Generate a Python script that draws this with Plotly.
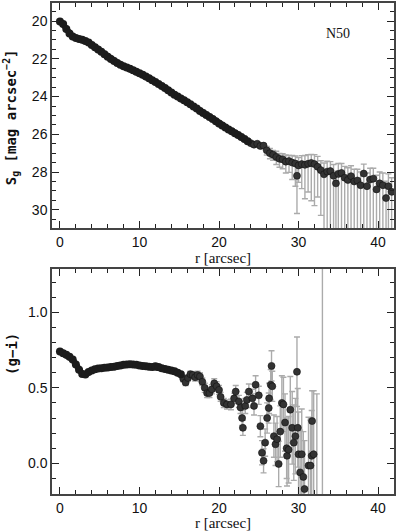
import plotly.graph_objects as go
from plotly.subplots import make_subplots

# surface brightness profile, inner part (errors smaller than the markers)
r_sb_in = [0.0, 0.4, 0.8, 1.2, 1.6, 2.0, 2.4, 2.8, 3.2, 3.6, 4.0, 4.4, 4.8, 5.2, 5.6,
           6.0, 6.4, 6.8, 7.2, 7.6, 8.0, 8.4, 8.8, 9.2, 9.6, 10.0, 10.4, 10.8, 11.2, 11.6,
           12.0, 12.4, 12.8, 13.2, 13.6, 14.0, 14.4, 14.8, 15.2, 15.6, 16.0, 16.4, 16.8,
           17.2, 17.6, 18.0, 18.4, 18.8, 19.2, 19.6, 20.0, 20.4, 20.8, 21.2, 21.6, 22.0,
           22.4, 22.8, 23.2, 23.6]
sb_in = [20.02, 20.15, 20.42, 20.66, 20.82, 20.9, 20.95, 20.99, 21.05, 21.14, 21.26, 21.38,
         21.5, 21.63, 21.76, 21.89, 22.01, 22.12, 22.22, 22.31, 22.39, 22.46, 22.53, 22.6,
         22.68, 22.76, 22.84, 22.93, 23.03, 23.13, 23.23, 23.33, 23.44, 23.55, 23.67, 23.79,
         23.9, 24.0, 24.1, 24.2, 24.3, 24.41, 24.52, 24.63, 24.76, 24.87, 24.98, 25.08,
         25.19, 25.31, 25.43, 25.53, 25.64, 25.74, 25.84, 25.94, 26.04, 26.14, 26.25, 26.37]

# outer part, asymmetric errors (up = brighter, down = fainter)
r_sb_out = [24.0, 24.4, 24.8, 25.2, 25.6, 26.0, 26.4, 26.8, 27.2, 27.6, 28.0, 28.4, 28.8,
            29.2, 29.6, 29.8, 30.0, 30.4, 30.8, 31.2, 31.6, 32.0, 32.4, 32.8, 33.2, 33.6,
            34.0, 34.4, 34.7, 35.0, 35.4, 35.8, 36.2, 36.6, 37.0, 37.4, 37.8, 38.2, 38.6,
            39.0, 39.4, 39.8, 40.2, 40.6, 41.0, 41.3, 41.7]
sb_out = [26.47, 26.55, 26.5, 26.62, 26.6, 26.85, 27.0, 27.08, 27.2, 27.3, 27.33, 27.45,
          27.42, 27.5, 27.55, 28.2, 27.65, 27.58, 27.62, 27.56, 27.52, 27.58, 27.72, 27.9,
          28.12, 27.98, 27.95, 28.2, 28.6, 28.1, 28.05, 28.3, 28.42, 28.22, 28.5, 28.45,
          28.7, 28.08, 28.75, 28.4, 28.35, 28.92, 28.6, 28.7, 29.38, 28.75, 29.05]
sb_err_bright = [0.06, 0.07, 0.08, 0.1, 0.12, 0.2, 0.25, 0.22, 0.3, 0.28, 0.3, 0.35, 0.3,
                 0.38, 0.4, 0.5, 0.42, 0.45, 0.5, 0.48, 0.45, 0.5, 0.55, 0.5, 0.6, 0.55,
                 0.5, 0.6, 0.65, 0.55, 0.5, 0.6, 0.65, 0.55, 0.65, 0.6, 0.7, 0.5, 0.7,
                 0.6, 0.55, 0.75, 0.6, 0.65, 0.9, 0.65, 0.75]
sb_err_faint = [0.07, 0.08, 0.1, 0.12, 0.15, 0.25, 0.3, 0.3, 0.4, 0.45, 0.5, 0.6, 0.6,
                0.9, 1.2, 2.0, 0.9, 1.3, 1.8, 1.5, 2.0, 2.2, 1.6, 2.4, 3.5, 4.0, 4.0,
                4.2, 3.8, 4.5, 4.0, 4.3, 4.5, 4.2, 4.6, 4.4, 4.5, 4.3, 4.6, 4.4, 4.5,
                4.7, 4.5, 4.6, 4.8, 4.5, 4.6]

# g-i colour profile, inner part
r_gi_in = [0.0, 0.4, 0.8, 1.2, 1.6, 2.0, 2.4, 2.8, 3.2, 3.6, 4.0, 4.4, 4.8, 5.2, 5.6,
           6.0, 6.4, 6.8, 7.2, 7.6, 8.0, 8.4, 8.8, 9.2, 9.6, 10.0, 10.4, 10.8, 11.2, 11.6,
           12.0, 12.4, 12.8, 13.2, 13.6, 14.0, 14.4, 14.8, 15.2]
gi_in = [0.74, 0.728, 0.718, 0.705, 0.688, 0.655, 0.62, 0.592, 0.588, 0.605, 0.615, 0.622,
         0.627, 0.63, 0.632, 0.634, 0.637, 0.64, 0.645, 0.648, 0.652, 0.655, 0.656, 0.655,
         0.652, 0.648, 0.645, 0.642, 0.64, 0.638, 0.642, 0.638, 0.63, 0.625, 0.62, 0.615,
         0.61, 0.6, 0.59]

# outer part with errors
r_gi_out = [15.5, 15.8, 16.1, 16.4, 16.7, 17.0, 17.3, 17.6, 17.9, 18.2, 18.5, 18.8, 19.1,
            19.4, 19.7, 20.0, 20.2, 20.6, 21.0, 21.5, 21.9, 22.1, 22.5, 22.7, 22.9, 23.0,
            23.3, 23.5, 23.75, 24.2, 24.4, 24.6, 25.0, 25.2, 25.4, 25.6, 25.8, 26.05, 26.25,
            26.3, 26.5, 26.7, 26.6, 26.9, 27.1, 27.3, 27.5, 27.7, 27.9, 28.1, 28.3, 28.5,
            28.55, 28.75, 28.96, 29.2, 29.4, 29.6, 29.8, 29.9, 30.0, 30.2, 30.4, 30.6, 30.75,
            31.25, 31.5, 31.65, 31.7, 31.9, 32.3, 33.0]
gi_out = [0.56, 0.535, 0.565, 0.59, 0.585, 0.57, 0.585, 0.575, 0.54, 0.5, 0.465, 0.465, 0.49,
          0.53, 0.51, 0.486, 0.44, 0.4, 0.39, 0.39, 0.43, 0.475, 0.41, 0.37, 0.3, 0.235,
          0.38, 0.42, 0.475, 0.43, 0.38, 0.52, 0.45, 0.246, 0.07, 0.017, 0.137, 0.3, 0.366,
          0.43, 0.52, 0.51, 0.645, 0.18, 0.126, 0.16, -0.004, 0.21, 0.4, 0.39, 0.27, 0.1,
          0.05, 0.09, 0.355, 0.235, 0.137, 0.18, 0.606, 0.235, 0.06, -0.06, 0.06, -0.09, -0.17,
          -0.015, -0.015, 0.05, 0.28, 0.06, -0.3, -0.6]
gi_err = [0.02, 0.02, 0.02, 0.02, 0.02, 0.025, 0.025, 0.025, 0.025, 0.03, 0.03, 0.03, 0.03,
          0.03, 0.03, 0.03, 0.03, 0.03, 0.03, 0.035, 0.035, 0.04, 0.04, 0.04, 0.05, 0.05,
          0.05, 0.05, 0.05, 0.06, 0.06, 0.06, 0.06, 0.07, 0.08, 0.08, 0.09, 0.1, 0.1,
          0.1, 0.1, 0.1, 0.1, 0.14, 0.14, 0.15, 0.15, 0.17, 0.18, 0.18, 0.19, 0.2,
          0.2, 0.22, 0.22, 0.24, 0.25, 0.25, 0.23, 0.26, 0.28, 0.28, 0.3, 0.3, 0.32,
          0.32, 0.3, 0.3, 0.2, 0.42, 0.76, 2.0]

galaxy = "N50"

mk = dict(size=7, color="#333333", line=dict(width=0.6, color="#111111"))
mk_in = dict(size=8, color="#1c1c1c", line=dict(width=0))
line_in = dict(width=6, color="#1c1c1c")
err_col = "#ababab"

fig = make_subplots(rows=2, cols=1, vertical_spacing=0.0825)

fig.add_trace(go.Scatter(x=r_sb_out, y=sb_out, mode="markers", marker=mk,
                         error_y=dict(type="data", symmetric=False, array=sb_err_faint,
                                      arrayminus=sb_err_bright, color=err_col,
                                      thickness=1.4, width=3)), row=1, col=1)
fig.add_trace(go.Scatter(x=r_sb_in, y=sb_in, mode="lines+markers", marker=mk_in,
                         line=line_in), row=1, col=1)

fig.add_trace(go.Scatter(x=r_gi_out, y=gi_out, mode="markers", marker=mk,
                         error_y=dict(type="data", array=gi_err, color=err_col,
                                      thickness=1.4, width=3)), row=2, col=1)
fig.add_trace(go.Scatter(x=r_gi_in, y=gi_in, mode="lines+markers", marker=mk_in,
                         line=line_in), row=2, col=1)

tickfont = dict(family="Liberation Sans, Arial", size=14, color="#111")
serif = dict(family="Liberation Serif, DejaVu Serif", size=15, color="#111")

ax = dict(showline=True, linecolor="#444", linewidth=1.5, mirror="allticks",
          ticks="inside", ticklen=7, tickwidth=1.2, tickcolor="#222",
          showgrid=False, zeroline=False, tickfont=tickfont)

fig.update_xaxes(range=[-1, 42], dtick=10, tick0=0,
                 minor=dict(dtick=2, ticklen=4, tickcolor="#222", ticks="inside"),
                 title=dict(text="r [arcsec]", font=serif, standoff=4), **ax)
fig.update_yaxes(range=[30.98, 19.04], dtick=2, tick0=20,
                 minor=dict(dtick=0.5, ticklen=4, tickcolor="#222", ticks="inside"),
                 row=1, col=1, **ax)
fig.update_yaxes(range=[-0.203, 1.288], dtick=0.5, tick0=0, tickformat=".1f",
                 minor=dict(dtick=0.1, ticklen=4, tickcolor="#222", ticks="inside"),
                 row=2, col=1, **ax)

ytitle = dict(family="DejaVu Sans Mono", size=14, color="#111")
fig.add_annotation(text="<b>S<sub>g</sub> [mag arcsec<sup>\u22122</sup>]</b>",
                   xref="paper", yref="paper", x=-0.119, y=0.768, textangle=-90,
                   xanchor="center", yanchor="middle", showarrow=False, font=ytitle)
fig.add_annotation(text="<b>(g\u2212i)</b>", xref="paper", yref="paper",
                   x=-0.119, y=0.286, textangle=-90, xanchor="center", yanchor="middle",
                   showarrow=False, font=ytitle)
fig.add_annotation(text=galaxy, xref="x", yref="y", x=35, y=20.65, showarrow=False,
                   xanchor="center", yanchor="middle",
                   font=dict(family="Liberation Serif, DejaVu Serif", size=14, color="#111"))

fig.update_layout(width=397, height=531, showlegend=False,
                  margin=dict(l=52, r=1, t=1, b=34),
                  plot_bgcolor="white", paper_bgcolor="white")

fig.write_html("out.html", config={"displayModeBar": False},
               post_script="document.body.style.margin='0';")
